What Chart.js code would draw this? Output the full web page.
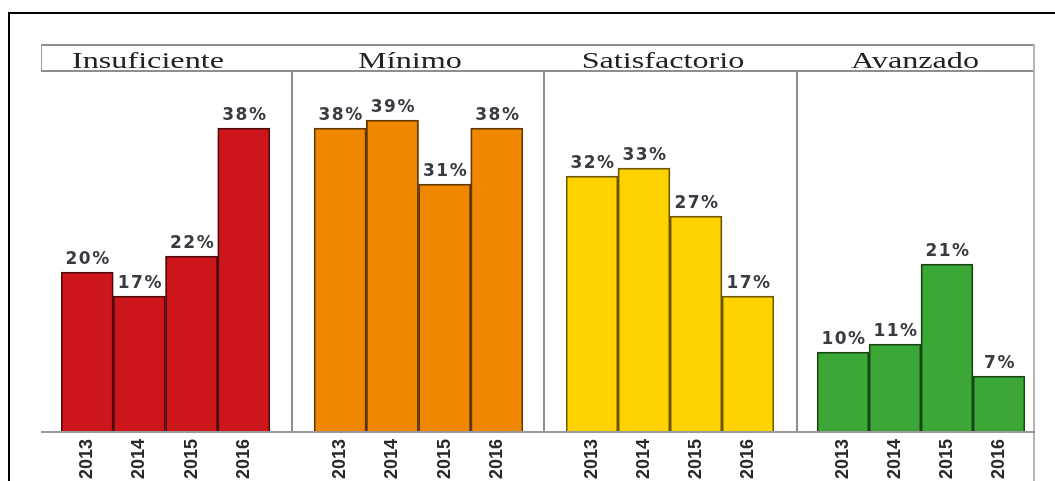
<!DOCTYPE html>
<html>
<head>
<meta charset="utf-8">
<script src="https://cdn.jsdelivr.net/npm/chart.js@4.4.1/dist/chart.umd.min.js"></script>
<style>
  html, body { margin: 0; padding: 0; background: #fff; overflow: hidden; }
  body { width: 1055px; height: 481px; position: relative; }
  .frame { position: absolute; left: 8px; top: 12px; width: 1100px; height: 520px; border: 2px solid #000; box-sizing: border-box; }
  .strip { position: absolute; left: 41px; top: 44px; width: 994px; height: 28px; border-top: 2px solid #8e8e8e; border-bottom: 2px solid #8e8e8e; border-left: 1px solid #9a9a9a; box-sizing: border-box; }
  .title { position: absolute; top: 47px; width: 240px; height: 28px; line-height: 28px; text-align: center;
           font-family: "Liberation Serif", "Times New Roman", serif; font-size: 23px; color: #222;
           transform: scaleX(1.4); }
  .sep { position: absolute; top: 72px; width: 2px; height: 360px; background: #8e8e8e; }
  .rightline { position: absolute; left: 1033px; top: 44px; width: 2px; height: 437px; background: #b4b4b4; }
  .axis { position: absolute; left: 41px; top: 431px; width: 994px; height: 2px; background: #9a9a9a; }
  .panel { position: absolute; top: 72px; height: 409px; }
</style>
</head>
<body>
<div class="frame"></div>
<div class="strip"></div>
<div class="rightline"></div>
<div id="panels"></div>
<div class="sep" style="left:291px"></div>
<div class="sep" style="left:543px"></div>
<div class="sep" style="left:796px"></div>
<div class="axis"></div>

<script>
// datos
const niveles = ['Insuficiente', 'Mínimo', 'Satisfactorio', 'Avanzado']
const anios = ['2013', '2014', '2015', '2016']
const insuficiente = [20, 17, 22, 38]
const minimo = [38, 39, 31, 38]
const satisfactorio = [32, 33, 27, 17]
const avanzado = [10, 11, 21, 7]

const valores = [insuficiente, minimo, satisfactorio, avanzado]
const relleno = ['#cd161b', '#f08700', '#ffd300', '#3ca636']
const borde = ['#4e0a0a', '#5e3600', '#6a5500', '#174614']

// caja de cada panel en la pagina y margen de las barras dentro
const paneles = [
  { left: 41, width: 251, padL: 20, padR: 22, tituloX: 148 },
  { left: 292, width: 252, padL: 22, padR: 21, tituloX: 410 },
  { left: 544, width: 253, padL: 22, padR: 23, tituloX: 663 },
  { left: 797, width: 238, padL: 20, padR: 10, tituloX: 915 }
]

// etiqueta con el porcentaje encima de cada barra
const etiquetas = {
  id: 'etiquetas',
  afterDatasetsDraw(chart) {
    const ctx = chart.ctx
    const meta = chart.getDatasetMeta(0)
    const datos = chart.data.datasets[0].data
    ctx.save()
    ctx.font = 'bold 17px "DejaVu Sans", Verdana, sans-serif'
    ctx.fillStyle = '#3a3a42'
    ctx.textAlign = 'center'
    ctx.textBaseline = 'bottom'
    ctx.letterSpacing = '1.5px'
    meta.data.forEach((bar, i) => {
      ctx.fillText(datos[i] + '%', bar.x + 1, bar.y - 4)
    })
    ctx.restore()
  }
}

const cont = document.getElementById('panels')

paneles.forEach((p, k) => {
  const t = document.createElement('div')
  t.className = 'title'
  t.style.left = (p.tituloX - 120) + 'px'
  t.textContent = niveles[k]
  document.body.appendChild(t)

  const div = document.createElement('div')
  div.className = 'panel'
  div.style.left = p.left + 'px'
  div.style.width = p.width + 'px'
  const canvas = document.createElement('canvas')
  div.appendChild(canvas)
  cont.appendChild(div)

  new Chart(canvas.getContext('2d'), {
    type: 'bar',
    data: {
      labels: anios,
      datasets: [{
        label: niveles[k],
        data: valores[k],
        backgroundColor: relleno[k],
        borderColor: borde[k],
        borderWidth: 1.8,
        barPercentage: 1,
        categoryPercentage: 1
      }]
    },
    options: {
      responsive: true,
      maintainAspectRatio: false,
      animation: false,
      layout: { padding: { left: p.padL, right: p.padR, top: 0, bottom: 0 } },
      plugins: {
        legend: { display: false },
        tooltip: { enabled: false }
      },
      scales: {
        y: { display: false, min: 0, max: 45 },
        x: {
          grid: { display: false, drawTicks: false },
          border: { display: false },
          ticks: {
            minRotation: 90,
            maxRotation: 90,
            padding: 7,
            color: '#2a2a2a',
            font: { family: '"Liberation Sans", Arial, sans-serif', size: 18, weight: 'bold' }
          },
          afterFit: function(scale) { scale.height = 49 }
        }
      }
    },
    plugins: [etiquetas]
  })
})
</script>
</body>
</html>
